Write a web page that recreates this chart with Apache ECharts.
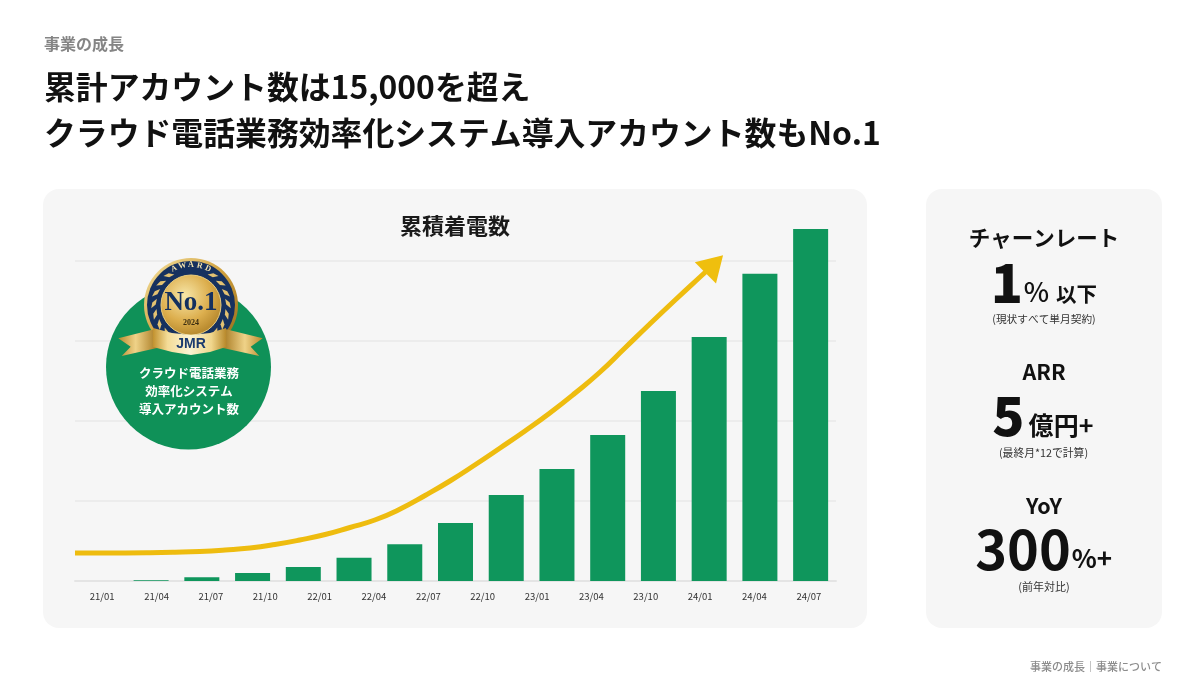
<!DOCTYPE html>
<html lang="ja">
<head>
<meta charset="utf-8">
<style>html,body{margin:0;padding:0;background:#fff}#c{width:1200px;height:684px}</style>
<script src="https://cdn.jsdelivr.net/npm/echarts@6/dist/echarts.min.js"></script>
</head>
<body>
<div id="c"></div>
<script>
// Data
const barCategories = ['21/01','21/04','21/07','21/10','22/01','22/04','22/07','22/10','23/01','23/04','23/07','23/10','24/01','24/04','24/07'];
const tickLabels = ['21/01','21/04','21/07','21/10','22/01','22/04','22/07','22/10','23/01','23/04','23/10','24/01','24/04','24/07'];
const barValues = [0,1,4.6,10,17.5,29,46,72.5,107.5,140,182.5,237.5,305,384,440];
const trendX = [0,0.49,0.99,1.48,1.97,2.46,2.96,3.45,3.94,4.43,4.93,5.42,5.91,6.41,6.90,7.39,7.88,8.38,8.87,9.36,9.86,10.35,10.84,11.33,11.83,12.32,12.6];
const trendY = [35,35,35,35.25,35.9,36.9,38.75,41.25,45.6,51.25,58.1,66.9,76.25,90,106.9,125,145,166.25,187.5,210,235,261.25,291.25,321.25,351.25,380,396.25];

const JP = '"Noto Sans CJK JP"';
const GREEN = '#0f965c';
const chart = echarts.init(document.getElementById('c'), null, {renderer:'canvas'});

function t(text,x,y,size,weight,fill,align,extra){
  return Object.assign({type:'text',z:20,style:{text,x,y,fill:fill||'#111',
    font:(weight||400)+' '+size+'px '+JP,textAlign:align||'center',textVerticalAlign:'middle'}},extra||{});
}
const gold = {type:'linear',x:0,y:0,x2:1,y2:1,colorStops:[{offset:0,color:'#f6e3a1'},{offset:.5,color:'#cf9f3c'},{offset:1,color:'#8f6618'}]};
const goldDisc = {type:'radial',x:.4,y:.35,r:.75,colorStops:[{offset:0,color:'#f7e6a8'},{offset:.55,color:'#dcae4d'},{offset:1,color:'#a97b22'}]};
const ribbonL = {type:'linear',x:0,y:0,x2:1,y2:0,colorStops:[{offset:0,color:'#b98a2c'},{offset:.45,color:'#efd288'},{offset:1,color:'#a87a22'}]};
const ribbonR = {type:'linear',x:0,y:0,x2:1,y2:0,colorStops:[{offset:0,color:'#a87a22'},{offset:.55,color:'#efd288'},{offset:1,color:'#b98a2c'}]};
const ribbonC = {type:'linear',x:0,y:0,x2:1,y2:0,colorStops:[{offset:0,color:'#c2922f'},{offset:.2,color:'#f4dc97'},{offset:.5,color:'#fbf3d3'},{offset:.8,color:'#f0d68c'},{offset:1,color:'#b98a2c'}]};

const MX=191, MY=305;
const medal = [
  {type:'circle',z:10,shape:{cx:188.5,cy:367,r:82.5},style:{fill:'#0f9158'}},
  {type:'circle',z:11,shape:{cx:MX,cy:MY,r:47},style:{fill:gold}},
  {type:'circle',z:11,shape:{cx:MX,cy:MY,r:44},style:{fill:'#16315f'}},
  {type:'circle',z:13,shape:{cx:MX,cy:MY,r:30},style:{fill:goldDisc,stroke:'#e9cd7e',lineWidth:1}}
];
// laurel leaves round the medal ring
for(const side of [-1,1]){
  for(let i=0;i<9;i++){
    const a=(i*17+8)*Math.PI/180;
    const ang=Math.PI/2+side*(Math.PI-a-0.5);
    const cx=MX+37*Math.cos(ang), cy=MY+37*Math.sin(ang);
    const dir=ang+side*Math.PI/2+side*0.5, l=5.5, w=2;
    const dx=Math.cos(dir),dy=Math.sin(dir);
    medal.push({type:'polygon',z:12,shape:{points:[[cx-dx*l,cy-dy*l],[cx-dy*w,cy+dx*w],[cx+dx*l,cy+dy*l],[cx+dy*w,cy-dx*w]]},style:{fill:'#e3c272'}});
  }
}
// curved AWARD
'AWARD'.split('').forEach((ch,i)=>{
  const deg=(i-2)*12.5, r=40, a=deg*Math.PI/180;
  medal.push({type:'text',z:14,x:MX+r*Math.sin(a),y:MY-r*Math.cos(a),rotation:-a,
    style:{text:ch,x:0,y:0,fill:'#f3e2ad',font:'700 8px "Liberation Serif"',textAlign:'center',textVerticalAlign:'middle'}});
});
medal.push(
  {type:'text',z:15,style:{text:'No.1',x:MX,y:303,fill:'#14305f',font:'700 27px "Liberation Serif"',textAlign:'center',textVerticalAlign:'middle'}},
  {type:'text',z:15,style:{text:'2024',x:MX,y:323,fill:'#3a2c10',font:'700 8px "Liberation Serif"',textAlign:'center',textVerticalAlign:'middle'}},
  {type:'polygon',z:16,shape:{points:[[118.3,338.3],[155,329],[157,348],[121.7,356],[130.7,346.7]]},style:{fill:ribbonL}},
  {type:'polygon',z:16,shape:{points:[[262.7,338.3],[225,329],[223,348],[259.3,356],[250.7,346.7]]},style:{fill:ribbonR}},
  {type:'polygon',z:17,shape:{points:[[153,328],[172,333],[191,335],[210,333],[226,328],[226,347],[210,352],[191,355],[172,352],[153,347]]},style:{fill:ribbonC}},
  {type:'text',z:18,style:{text:'JMR',x:MX,y:344,fill:'#1b3a6e',font:'700 14px "Liberation Sans"',textAlign:'center',textVerticalAlign:'middle'}},
  t('クラウド電話業務',189,373,12.5,700,'#fff'),
  t('効率化システム',189,391,12.5,700,'#fff'),
  t('導入アカウント数',189,409,12.5,700,'#fff')
);

const graphic = [
  {type:'rect',z:-5,shape:{x:43,y:189,width:824,height:439,r:16},style:{fill:'#f6f6f6'}},
  {type:'rect',z:-5,shape:{x:926,y:189,width:236,height:439,r:16},style:{fill:'#f6f6f6'}},
  t('事業の成長',44,44,16,700,'#858585','left'),
  t('累計アカウント数は15,000を超え',44,87,31.85,700,'#111','left'),
  t('クラウド電話業務効率化システム導入アカウント数もNo.1',44,133,31.85,700,'#111','left'),
  t('累積着電数',455,226,22,700,'#1a1a1a'),
  t('事業の成長｜事業について',1162,667,11,500,'#8c8c8c','right'),

  t('チャーンレート',1044,238,21.5,700),
  t('1',1007,283,53,900),
  t('%',1036.5,292,27,500),
  t('以下',1076.5,294,20.5,700),
  t('(現状すべて単月契約)',1044,319,10.7,400,'#333'),

  t('ARR',1044,372,21.5,700),
  t('5',1008.5,415.5,53,900),
  t('億円+',1061,425.5,25,700),
  t('(最終月*12で計算)',1043.5,453,10.8,400,'#333'),

  t('YoY',1044,506,21.5,700),
  t('300',1023,549.5,54,700),
  t('%+',1092,558,26,700),
  t('(前年対比)',1044,586.5,11,400,'#333')
].concat(medal);

const trendData = trendX.map((x,i)=>{
  const last = i===trendX.length-1;
  return {value:[x,trendY[i]],symbol:last?'triangle':'none',symbolSize:last?[30,25]:0,symbolRotate:last?-45:0};
});

chart.setOption({
  animation:false,
  backgroundColor:'#ffffff',
  graphic:{elements:graphic},
  grid:{left:75,top:229,width:761,height:352,containLabel:false},
  xAxis:[
    {type:'category',data:barCategories,show:false,gridIndex:0},
    {type:'category',data:tickLabels,position:'bottom',gridIndex:0,
      axisLine:{show:true,lineStyle:{color:'#e4e4e4',width:2}},axisTick:{show:false},
      axisLabel:{interval:0,fontSize:9.5,color:'#333',margin:11,fontFamily:JP}},
    {type:'value',min:0,max:15,show:false,gridIndex:0}
  ],
  yAxis:{type:'value',min:0,max:440,interval:100,gridIndex:0,
    axisLine:{show:false},axisTick:{show:false},axisLabel:{show:false},
    splitLine:{show:true,showMaxLine:false,lineStyle:{color:'#e8e8e8',width:1.5}}},
  series:[
    {type:'bar',xAxisIndex:0,yAxisIndex:0,data:barValues,barWidth:35,itemStyle:{color:GREEN},z:3},
    {type:'line',xAxisIndex:2,yAxisIndex:0,data:trendData,smooth:0.5,showSymbol:true,showAllSymbol:true,
      lineStyle:{color:'#eebc0f',width:5,cap:'butt'},itemStyle:{color:'#efbf0e'},z:5,clip:false}
  ]
});
</script>
</body>
</html>
